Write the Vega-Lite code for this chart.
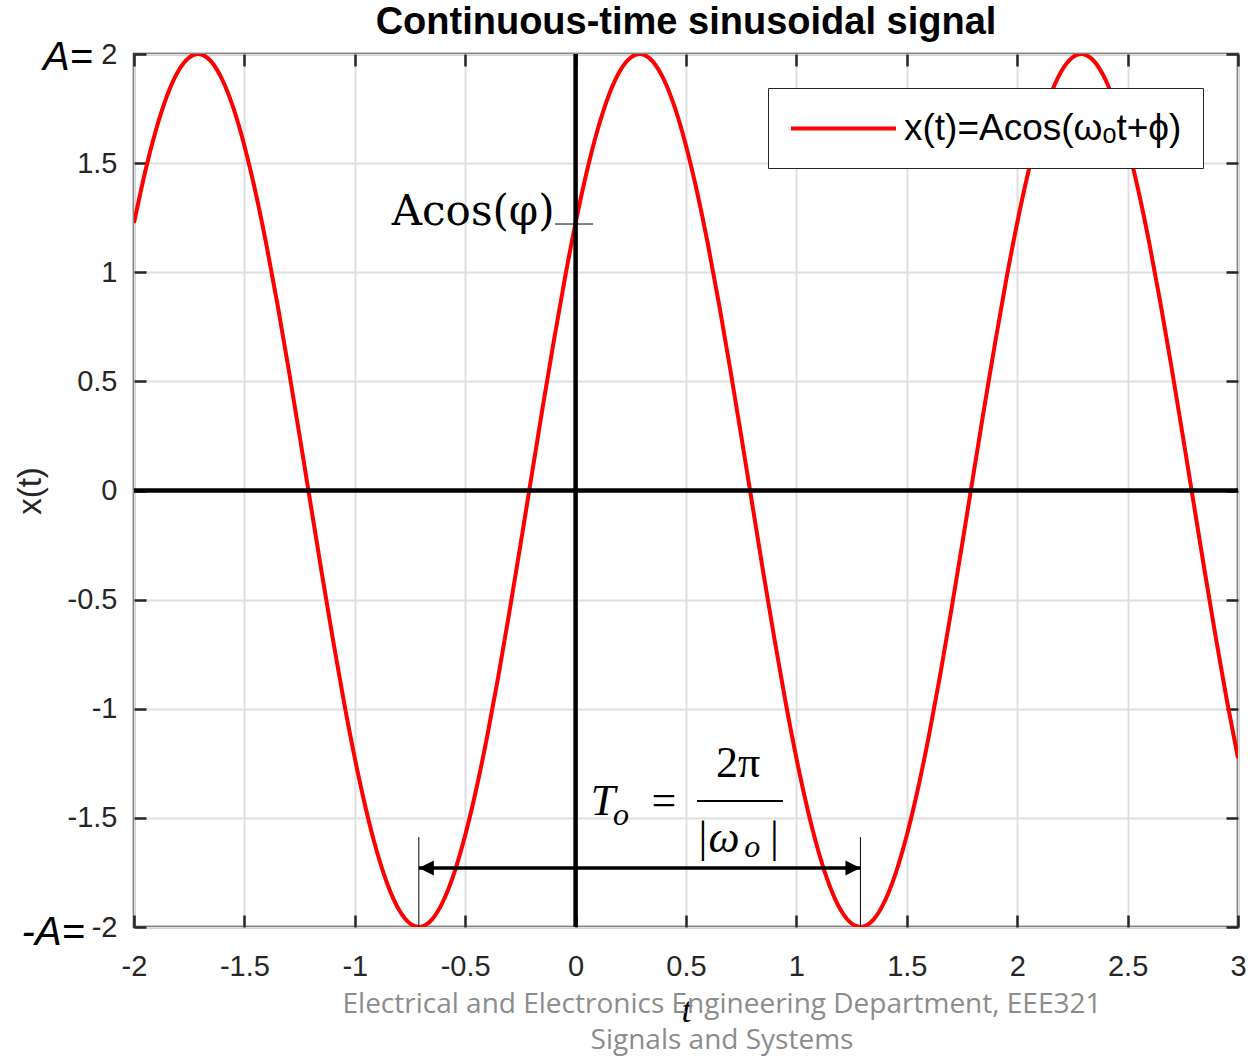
{
  "$schema": "https://vega.github.io/schema/vega-lite/v6.json",
  "width": 1104,
  "height": 873,
  "autosize": {"type": "none"},
  "padding": {"left": 134, "top": 54, "right": 15, "bottom": 130},
  "background": "white",
  "config": {
    "view": {"stroke": "#262626", "strokeWidth": 2.5},
    "axis": {
      "labelFont": "Liberation Sans",
      "labelFontSize": 29,
      "labelColor": "#262626",
      "labelFlush": false,
      "tickColor": "#262626",
      "tickWidth": 2.5,
      "tickSize": -12,
      "domain": false,
      "grid": false
    }
  },
  "title": {
    "text": "Continuous-time sinusoidal signal",
    "font": "Liberation Sans",
    "fontSize": 38,
    "fontWeight": "bold",
    "color": "#000000",
    "anchor": "middle",
    "offset": -4
  },
  "resolve": {"axis": {"x": "independent", "y": "independent"}},
  "layer": [
    {
      "data": {"values": [
        {"t":-2,"x":1.226},{"t":-1.95,"x":1.458},{"t":-1.9,"x":1.654},{"t":-1.85,"x":1.81},{"t":-1.8,"x":1.921},{"t":-1.75,"x":1.984},{"t":-1.7,"x":1.999},{"t":-1.65,"x":1.965},{"t":-1.6,"x":1.882},{"t":-1.55,"x":1.753},{"t":-1.5,"x":1.58},{"t":-1.45,"x":1.369},{"t":-1.4,"x":1.124},{"t":-1.35,"x":0.852},{"t":-1.3,"x":0.558},{"t":-1.25,"x":0.251},{"t":-1.2,"x":-0.063},{"t":-1.15,"x":-0.375},{"t":-1.1,"x":-0.677},{"t":-1.05,"x":-0.964},
        {"t":-1,"x":-1.226},{"t":-0.95,"x":-1.458},{"t":-0.9,"x":-1.654},{"t":-0.85,"x":-1.81},{"t":-0.8,"x":-1.921},{"t":-0.75,"x":-1.984},{"t":-0.7,"x":-1.999},{"t":-0.65,"x":-1.965},{"t":-0.6,"x":-1.882},{"t":-0.55,"x":-1.753},{"t":-0.5,"x":-1.58},{"t":-0.45,"x":-1.369},{"t":-0.4,"x":-1.124},{"t":-0.35,"x":-0.852},{"t":-0.3,"x":-0.558},{"t":-0.25,"x":-0.251},{"t":-0.2,"x":0.063},{"t":-0.15,"x":0.375},{"t":-0.1,"x":0.677},{"t":-0.05,"x":0.964},
        {"t":0,"x":1.226},{"t":0.05,"x":1.458},{"t":0.1,"x":1.654},{"t":0.15,"x":1.81},{"t":0.2,"x":1.921},{"t":0.25,"x":1.984},{"t":0.3,"x":1.999},{"t":0.35,"x":1.965},{"t":0.4,"x":1.882},{"t":0.45,"x":1.753},{"t":0.5,"x":1.58},{"t":0.55,"x":1.369},{"t":0.6,"x":1.124},{"t":0.65,"x":0.852},{"t":0.7,"x":0.558},{"t":0.75,"x":0.251},{"t":0.8,"x":-0.063},{"t":0.85,"x":-0.375},{"t":0.9,"x":-0.677},{"t":0.95,"x":-0.964},
        {"t":1,"x":-1.226},{"t":1.05,"x":-1.458},{"t":1.1,"x":-1.654},{"t":1.15,"x":-1.81},{"t":1.2,"x":-1.921},{"t":1.25,"x":-1.984},{"t":1.3,"x":-1.999},{"t":1.35,"x":-1.965},{"t":1.4,"x":-1.882},{"t":1.45,"x":-1.753},{"t":1.5,"x":-1.58},{"t":1.55,"x":-1.369},{"t":1.6,"x":-1.124},{"t":1.65,"x":-0.852},{"t":1.7,"x":-0.558},{"t":1.75,"x":-0.251},{"t":1.8,"x":0.063},{"t":1.85,"x":0.375},{"t":1.9,"x":0.677},{"t":1.95,"x":0.964},
        {"t":2,"x":1.226},{"t":2.05,"x":1.458},{"t":2.1,"x":1.654},{"t":2.15,"x":1.81},{"t":2.2,"x":1.921},{"t":2.25,"x":1.984},{"t":2.3,"x":1.999},{"t":2.35,"x":1.965},{"t":2.4,"x":1.882},{"t":2.45,"x":1.753},{"t":2.5,"x":1.58},{"t":2.55,"x":1.369},{"t":2.6,"x":1.124},{"t":2.65,"x":0.852},{"t":2.7,"x":0.558},{"t":2.75,"x":0.251},{"t":2.8,"x":-0.063},{"t":2.85,"x":-0.375},{"t":2.9,"x":-0.677},{"t":2.95,"x":-0.964},{"t":3,"x":-1.226}
      ]},
      "mark": {"type": "line", "interpolate": "natural", "strokeWidth": 4, "clip": true},
      "encoding": {
        "x": {
          "field": "t", "type": "quantitative",
          "scale": {"domain": [-2, 3], "nice": false, "zero": false},
          "axis": {
            "orient": "bottom",
            "values": [-2,-1.5,-1,-0.5,0,0.5,1,1.5,2,2.5,3],
            "labelExpr": "toString(datum.value)",
            "labelPadding": 37,
            "grid": true, "gridColor": "#dfdfdf", "gridWidth": 2,
            "title": "t",
            "titleFont": "Liberation Serif", "titleFontStyle": "italic", "titleFontWeight": "normal",
            "titleFontSize": 36, "titleColor": "#000000", "titlePadding": 12
          }
        },
        "y": {
          "field": "x", "type": "quantitative",
          "scale": {"domain": [-2, 2], "nice": false, "zero": false},
          "axis": {
            "orient": "left",
            "values": [-2,-1.5,-1,-0.5,0,0.5,1,1.5,2],
            "labelExpr": "toString(datum.value)",
            "labelPadding": 29,
            "grid": true, "gridColor": "#dfdfdf", "gridWidth": 2,
            "title": "x(t)",
            "titleFont": "Liberation Sans", "titleFontWeight": "normal",
            "titleFontSize": 33, "titleColor": "#262626", "titlePadding": 20
          }
        },
        "color": {
          "datum": "x(t)=Acos(ωₒt+ϕ)",
          "type": "nominal",
          "scale": {"range": ["#ff0000"]},
          "legend": {
            "title": null, "orient": "none", "legendX": 634, "legendY": 34,
            "symbolType": "M-1,0L5,0", "symbolSize": 1225, "symbolStrokeWidth": 4,
            "labelFont": "Liberation Sans", "labelFontSize": 37, "labelColor": "#000000",
            "labelOffset": 76, "labelLimit": 0, "padding": 21,
            "strokeColor": "#262626", "fillColor": "#ffffff"
          }
        }
      }
    },
    {
      "data": {"values": [{"t": 0}]},
      "mark": {"type": "rule", "color": "#000000", "strokeWidth": 4.5},
      "encoding": {
        "x": {"field": "t", "type": "quantitative",
          "axis": {"orient": "top", "values": [-2,-1.5,-1,-0.5,0,0.5,1,1.5,2,2.5,3], "labels": false, "title": null, "grid": false}}
      }
    },
    {
      "data": {"values": [{"x": 0}]},
      "mark": {"type": "rule", "color": "#000000", "strokeWidth": 4.5},
      "encoding": {
        "y": {"field": "x", "type": "quantitative",
          "axis": {"orient": "right", "values": [-2,-1.5,-1,-0.5,0,0.5,1,1.5,2], "labels": false, "title": null, "grid": false}}
      }
    },
    {
      "data": {"values": [{"t1": -0.71, "t2": 1.29, "y": -1.73}]},
      "mark": {"type": "rule", "color": "#000000", "strokeWidth": 3.5},
      "encoding": {
        "x": {"field": "t1", "type": "quantitative", "axis": null},
        "x2": {"field": "t2"},
        "y": {"field": "y", "type": "quantitative", "axis": null}
      }
    },
    {
      "data": {"values": [{"t": -0.71, "y": -1.73}]},
      "mark": {"type": "point", "shape": "M0,0L2,-1L2,1Z", "size": 225, "filled": true, "color": "#000000", "opacity": 1, "strokeWidth": 0},
      "encoding": {
        "x": {"field": "t", "type": "quantitative", "axis": null},
        "y": {"field": "y", "type": "quantitative", "axis": null}
      }
    },
    {
      "data": {"values": [{"t": 1.29, "y": -1.73}]},
      "mark": {"type": "point", "shape": "M0,0L-2,-1L-2,1Z", "size": 225, "filled": true, "color": "#000000", "opacity": 1, "strokeWidth": 0},
      "encoding": {
        "x": {"field": "t", "type": "quantitative", "axis": null},
        "y": {"field": "y", "type": "quantitative", "axis": null}
      }
    },
    {
      "data": {"values": [{"t": -0.71, "y1": -2, "y2": -1.588}, {"t": 1.29, "y1": -2, "y2": -1.588}]},
      "mark": {"type": "rule", "color": "#000000", "strokeWidth": 1},
      "encoding": {
        "x": {"field": "t", "type": "quantitative", "axis": null},
        "y": {"field": "y1", "type": "quantitative", "axis": null},
        "y2": {"field": "y2"}
      }
    },
    {
      "data": {"values": [{"t1": -0.093, "t2": 0.079, "y": 1.221}]},
      "mark": {"type": "rule", "color": "#000000", "strokeWidth": 1},
      "encoding": {
        "x": {"field": "t1", "type": "quantitative", "axis": null},
        "x2": {"field": "t2"},
        "y": {"field": "y", "type": "quantitative", "axis": null}
      }
    },
    {
      "data": {"values": [{"t1": 0.55, "t2": 0.939, "y": -1.423}]},
      "mark": {"type": "rule", "color": "#000000", "strokeWidth": 2},
      "encoding": {
        "x": {"field": "t1", "type": "quantitative", "axis": null},
        "x2": {"field": "t2"},
        "y": {"field": "y", "type": "quantitative", "axis": null}
      }
    },
    {
      "data": {"values": [{"t": -0.095, "y": 1.216, "label": "Acos(φ)"}]},
      "mark": {"type": "text", "font": "DejaVu Serif", "fontSize": 42, "align": "right", "baseline": "alphabetic", "color": "#000000"},
      "encoding": {
        "x": {"field": "t", "type": "quantitative", "axis": null},
        "y": {"field": "y", "type": "quantitative", "axis": null},
        "text": {"field": "label"}
      }
    },
    {
      "data": {"values": [{"t": 0.124, "y": -1.487, "label": "T"}, {"t": 0.672, "y": -1.656, "label": "ω"}]},
      "mark": {"type": "text", "font": "Liberation Serif", "fontStyle": "italic", "fontSize": 44, "align": "center", "baseline": "alphabetic", "color": "#000000"},
      "encoding": {
        "x": {"field": "t", "type": "quantitative", "axis": null},
        "y": {"field": "y", "type": "quantitative", "axis": null},
        "text": {"field": "label"}
      }
    },
    {
      "data": {"values": [{"t": 0.206, "y": -1.533, "label": "o"}, {"t": 0.8, "y": -1.679, "label": "o"}]},
      "mark": {"type": "text", "font": "Liberation Serif", "fontStyle": "italic", "fontSize": 32, "align": "center", "baseline": "alphabetic", "color": "#000000"},
      "encoding": {
        "x": {"field": "t", "type": "quantitative", "axis": null},
        "y": {"field": "y", "type": "quantitative", "axis": null},
        "text": {"field": "label"}
      }
    },
    {
      "data": {"values": [
        {"t": 0.4, "y": -1.487, "label": "="},
        {"t": 0.736, "y": -1.313, "label": "2π"},
        {"t": 0.577, "y": -1.656, "label": "|"},
        {"t": 0.9, "y": -1.656, "label": "|"}
      ]},
      "mark": {"type": "text", "font": "Liberation Serif", "fontSize": 44, "align": "center", "baseline": "alphabetic", "color": "#000000"},
      "encoding": {
        "x": {"field": "t", "type": "quantitative", "axis": null},
        "y": {"field": "y", "type": "quantitative", "axis": null},
        "text": {"field": "label"}
      }
    },
    {
      "data": {"values": [{"t": -2.186, "y": 1.927, "label": "A="}, {"t": -2.222, "y": -2.082, "label": "-A="}]},
      "mark": {"type": "text", "font": "Liberation Sans", "fontStyle": "italic", "fontSize": 40, "align": "right", "baseline": "alphabetic", "color": "#000000"},
      "encoding": {
        "x": {"field": "t", "type": "quantitative", "axis": null},
        "y": {"field": "y", "type": "quantitative", "axis": null},
        "text": {"field": "label"}
      }
    },
    {
      "data": {"values": [
        {"t": 0.663, "y": -2.394, "label": "Electrical and Electronics Engineering Department, EEE321"},
        {"t": 0.663, "y": -2.559, "label": "Signals and Systems"}
      ]},
      "mark": {"type": "text", "font": "Open Sans", "fontSize": 28, "align": "center", "baseline": "alphabetic", "color": "#8c8c8c"},
      "encoding": {
        "x": {"field": "t", "type": "quantitative", "axis": null},
        "y": {"field": "y", "type": "quantitative", "axis": null},
        "text": {"field": "label"}
      }
    }
  ]
}
